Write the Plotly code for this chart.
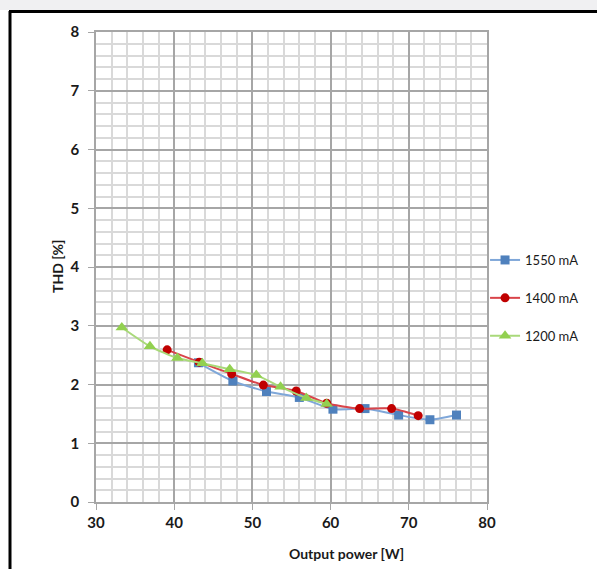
import plotly.graph_objects as go

# Data
blue_x = [43.1, 47.5, 51.8, 56.0, 60.3, 64.4, 68.7, 72.7, 76.1]
blue_y = [2.37, 2.06, 1.88, 1.78, 1.58, 1.59, 1.48, 1.40, 1.48]
red_x = [39.1, 43.2, 47.35, 51.4, 55.6, 59.5, 63.7, 67.8, 71.2]
red_y = [2.59, 2.38, 2.18, 1.99, 1.89, 1.68, 1.59, 1.59, 1.47]
green_x = [33.3, 36.9, 40.4, 43.6, 47.1, 50.5, 53.6, 56.9, 59.5]
green_y = [2.97, 2.65, 2.45, 2.36, 2.26, 2.16, 1.96, 1.77, 1.67]
series_names = ["1550 mA", "1400 mA", "1200 mA"]
x_title = "Output power [W]"
y_title = "THD [%]"

FONT = "Lato, 'Open Sans', sans-serif"

fig = go.Figure()
fig.add_trace(go.Scatter(x=blue_x, y=blue_y, name=series_names[0], mode="lines+markers",
                         line=dict(color="#7FA7D9", width=2, shape="spline", smoothing=0.6),
                         marker=dict(symbol="square", size=9, color="#4F81BD"),
                         legendgroup="a"))
fig.add_trace(go.Scatter(x=red_x, y=red_y, name=series_names[1], mode="lines+markers",
                         line=dict(color="#D9444A", width=2, shape="spline", smoothing=0.6),
                         marker=dict(symbol="circle", size=9, color="#C00000"),
                         legendgroup="b"))
fig.add_trace(go.Scatter(x=green_x, y=green_y, name=series_names[2], mode="lines+markers",
                         line=dict(color="#A9D97A", width=2, shape="spline", smoothing=0.6),
                         marker=dict(symbol="triangle-up", size=11, color="#92D050"),
                         legendgroup="c"))

grid_major = "#A6A6A6"
grid_minor = "#D9D9D9"

fig.update_xaxes(range=[30, 80], dtick=10, tick0=30, showgrid=True, gridcolor=grid_major, gridwidth=1.5,
                 minor=dict(dtick=2, showgrid=True, gridcolor=grid_minor, gridwidth=1.5),
                 ticks="outside", ticklen=6, tickcolor="#A6A6A6",
                 showline=True, linecolor="#A6A6A6", linewidth=1.5, mirror=True,
                 zeroline=False, automargin=False,
                 tickfont=dict(family=FONT, size=15, color="#1a1a1a", weight="bold"))
fig.update_yaxes(range=[0, 8], dtick=1, showgrid=True, gridcolor=grid_major, gridwidth=1.5,
                 minor=dict(dtick=0.2, showgrid=True, gridcolor=grid_minor, gridwidth=1.5),
                 ticks="outside", ticklen=6, tickcolor="#A6A6A6", ticklabelstandoff=6,
                 showline=True, linecolor="#A6A6A6", linewidth=1.5, mirror=True,
                 zeroline=False, automargin=False,
                 tickfont=dict(family=FONT, size=15, color="#1a1a1a", weight="bold"))

# Axis titles
fig.add_annotation(text=x_title, xref="paper", yref="paper", x=(346 - 96) / 391, y=-51 / 470,
                   showarrow=False, xanchor="center", yanchor="middle",
                   font=dict(family=FONT, size=14, color="#1a1a1a", weight="bold"))
fig.add_annotation(text=y_title, xref="paper", yref="paper", x=-39 / 391, y=(502 - 266) / 470,
                   showarrow=False, xanchor="center", yanchor="middle", textangle=-90,
                   font=dict(family=FONT, size=14, color="#1a1a1a", weight="bold"))

# Frame decorations (screenshot border)
fig.add_shape(type="rect", xref="paper", yref="paper", x0=-96/391, x1=501/391, y0=1 + 22/470, y1=1 + 32/470,
              fillcolor="#F0F0F2", line=dict(width=0), layer="below")
fig.add_shape(type="line", xref="paper", yref="paper", x0=-87/391, x1=501/391, y0=1 + 20.5/470, y1=1 + 20.5/470,
              line=dict(color="black", width=3))
fig.add_shape(type="line", xref="paper", yref="paper", x0=-86/391, x1=-86/391, y0=-67/470, y1=1 + 21/470,
              line=dict(color="black", width=3))

fig.update_layout(
    width=597, height=569,
    margin=dict(l=96, r=110, t=32, b=67, autoexpand=False),
    paper_bgcolor="white", plot_bgcolor="white",
    font=dict(family=FONT, size=13, color="#1a1a1a"),
    showlegend=True,
    legend=dict(x=0.995, y=(502 - 245) / 470, xanchor="left", yanchor="top", tracegroupgap=18,
                font=dict(family=FONT, size=13, color="#1a1a1a"), itemwidth=30,
                bgcolor="rgba(0,0,0,0)"),
)

fig.write_html("out.html", config={"displayModeBar": False},
               post_script="document.body.style.margin='0';document.body.style.overflow='hidden';")
